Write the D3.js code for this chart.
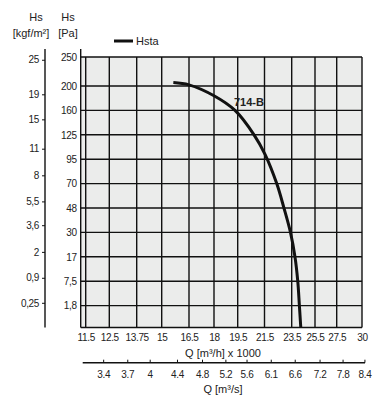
<!DOCTYPE html>
<html><head><meta charset="utf-8">
<script src="https://cdn.jsdelivr.net/npm/d3@7"></script>
<style>
html,body{margin:0;padding:0;background:#fff;}
svg{display:block;font-family:"Liberation Sans",Arial,sans-serif;}
</style></head>
<body>
<script>
// ---- data ----
const qTicks = [11.5, 12.5, 13.75, 15, 16.5, 18, 19.5, 21.5, 23.5, 25.5, 27.5, 30];      // Q [m³/h] x 1000
const qsTicks = [3.4, 3.7, 4, 4.4, 4.8, 5.2, 5.6, 6.1, 6.6, 7.2, 7.8, 8.4];              // Q [m³/s]
const paTicks = [250, 200, 160, 125, 95, 70, 48, 30, 17, 7.5, 1.8];                      // Hs [Pa]
const kgfTicks = [25, 19, 15, 11, 8, 5.5, 3.6, 2, 0.9, 0.25];                            // Hs [kgf/m²]
const curveQ  = [15.64, 16.5, 18, 19.33, 20.72, 21.54, 22.4, 22.93, 23.41, 23.78, 24.02, 24.16, 24.28];
const curvePa = [206, 202, 184, 160, 125, 101, 70, 48, 30, 17, 7.5, 1.8, 0];
const seriesName = "Hsta";
const curveLabel = "714-B";

// ---- layout ----
const W = 383, H = 400;
const plot = {left: 80.7, right: 362, top: 57, bottom: 327.5};
const qGridPx = [85.7, 109.3, 136.7, 161.7, 189, 214, 237.7, 264.5, 291.7, 315, 336.7, 362];
const y200 = 86, yStep = 24.4;

const svg = d3.select("body").append("svg").attr("width", W).attr("height", H);

// pick a narrow font for tick labels if available
const probe = svg.append("text").attr("font-size", 11).attr("font-family", '"Liberation Sans Narrow"').text("13.75");
const narrowW = probe.node().getComputedTextLength();
probe.remove();
const tickFont = narrowW > 0 && narrowW < 24
  ? {family: '"Liberation Sans Narrow",Arial,sans-serif', size: 11, ls: 0}
  : {family: '"Liberation Sans",Arial,sans-serif', size: 10, ls: -0.35};

const x = d3.scaleLinear().domain(qTicks).range(qGridPx);
const yDomain = paTicks.concat([0]);
const yRange = paTicks.map((d, i) => i === 0 ? plot.top : y200 + (i - 1) * yStep).concat([plot.bottom]);
const y = d3.scaleLinear().domain(yDomain).range(yRange);

const ink = "#111";
const txt = "#222";

// plot background
svg.append("rect").attr("x", plot.left).attr("y", plot.top)
  .attr("width", plot.right - plot.left).attr("height", plot.bottom - plot.top)
  .attr("fill", "#ebeceb");

// grid
const g = svg.append("g").attr("stroke", ink).attr("stroke-width", 1.4);
g.selectAll("line.v").data(qTicks).join("line")
  .attr("x1", d => x(d)).attr("x2", d => x(d)).attr("y1", plot.top).attr("y2", plot.bottom);
g.selectAll("line.h").data(paTicks).join("line")
  .attr("x1", plot.left).attr("x2", plot.right).attr("y1", d => y(d)).attr("y2", d => y(d));
g.append("line").attr("x1", plot.left).attr("x2", plot.right).attr("y1", plot.bottom).attr("y2", plot.bottom);

// Pa axis (left of plot)
const paAxis = d3.axisLeft(y).tickValues(paTicks).tickSize(0).tickPadding(4).tickFormat(d => String(d).replace(".", ","));
const pa = svg.append("g").attr("transform", `translate(${plot.left},0)`).call(paAxis);
pa.select(".domain").remove();
pa.append("line").attr("x1", 0).attr("x2", 0).attr("y1", 49).attr("y2", plot.bottom).attr("stroke", ink).attr("stroke-width", 1.4);

// kgf axis
const kgfX = 45;
const kgfAxis = d3.axisLeft(y).tickValues(kgfTicks.map(v => v * 9.81)).tickSize(3).tickPadding(3)
  .tickFormat((d, i) => String(kgfTicks[i]).replace(".", ","));
const kg = svg.append("g").attr("transform", `translate(${kgfX},0)`).call(kgfAxis);
kg.select(".domain").remove();
kg.selectAll(".tick line").attr("stroke", ink);
kg.append("line").attr("x1", 0).attr("x2", 0).attr("y1", 49).attr("y2", plot.bottom).attr("stroke", ink).attr("stroke-width", 1.4);

// Q m³/h axis
const qAxis = d3.axisBottom(x).tickValues(qTicks).tickSize(0).tickPadding(6).tickFormat(d => d);
const qa = svg.append("g").attr("transform", `translate(0,${plot.bottom})`).call(qAxis);
qa.select(".domain").remove();

// Q m³/s axis
const qsY = 362.7;
const qsAxis = d3.axisBottom(x).tickValues(qsTicks.map(v => v * 3.6)).tickSize(0).tickPadding(8)
  .tickFormat((d, i) => qsTicks[i]);
const qs = svg.append("g").attr("transform", `translate(0,${qsY})`).call(qsAxis);
qs.select(".domain").remove();
qs.append("line").attr("x1", 82.7).attr("x2", 365).attr("y1", 0).attr("y2", 0).attr("stroke", ink).attr("stroke-width", 1.4);
qs.selectAll(".tick").append("line").attr("y1", 0).attr("y2", -3).attr("stroke", ink);

[pa, kg, qa, qs].forEach(a => a.selectAll("text").attr("font-size", tickFont.size).attr("fill", txt)
  .attr("font-family", tickFont.family).attr("letter-spacing", tickFont.ls));

// axis titles
const title = (t, xx, yy, anchor) => svg.append("text").attr("x", xx).attr("y", yy)
  .attr("text-anchor", anchor || "middle").attr("font-size", 11).attr("fill", txt).text(t);
title("Hs", 36, 21);
title("[kgf/m²]", 31, 37);
title("Hs", 68, 21);
title("[Pa]", 68, 37);
title("Q [m³/h] x 1000", 223, 357);
title("Q [m³/s]", 223, 393);

// legend
svg.append("line").attr("x1", 114).attr("x2", 133).attr("y1", 41).attr("y2", 41).attr("stroke", ink).attr("stroke-width", 3);
title(seriesName, 136, 45, "start");

// curve
const pts = curveQ.map((q, i) => [x(q), y(curvePa[i])]);
svg.append("path").attr("d", d3.line().curve(d3.curveCatmullRom.alpha(0.5))(pts))
  .attr("fill", "none").attr("stroke", ink).attr("stroke-width", 3);

svg.append("text").attr("x", 234).attr("y", 106).attr("font-size", 11).attr("font-weight", "bold")
  .attr("fill", "#222").text(curveLabel);
</script>
</body></html>
